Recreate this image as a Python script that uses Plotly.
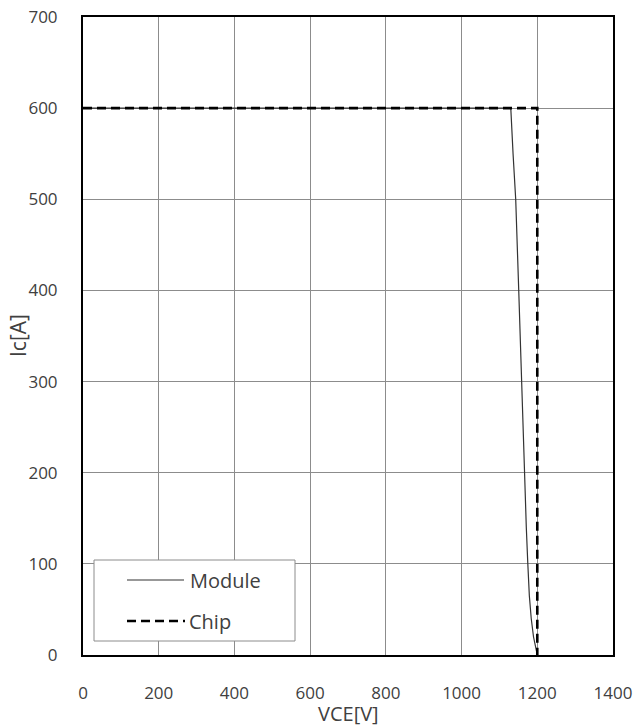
import plotly.graph_objects as go

# Collector current vs collector-emitter voltage (RBSOA)
module_vce = [0, 1130, 1136, 1143, 1151, 1158, 1165, 1171, 1175, 1179, 1184, 1190, 1200]
module_ic = [600, 600, 550, 500, 400, 300, 200, 140, 100, 65, 40, 20, 0]

chip_vce = [0, 1200, 1200]
chip_ic = [600, 600, 0]

x_ticks = [0, 200, 400, 600, 800, 1000, 1200, 1400]
y_ticks = [0, 100, 200, 300, 400, 500, 600, 700]

legend_names = ["Module", "Chip"]

font_family = "Open Sans, Lato, sans-serif"
text_grey = "#404040"

fig = go.Figure()
fig.add_trace(go.Scatter(x=module_vce, y=module_ic, mode="lines", name=legend_names[0],
                         line=dict(color="#333333", width=1.2), showlegend=False))
fig.add_trace(go.Scatter(x=chip_vce, y=chip_ic, mode="lines", name=legend_names[1],
                         line=dict(color="black", width=2.6, dash="9px,5px"), showlegend=False))

axis_common = dict(showline=True, mirror=True, linecolor="black", linewidth=2,
                   showgrid=True, gridcolor="#8c8c8c", gridwidth=1, zeroline=False,
                   automargin=False, ticks="",
                   tickfont=dict(family=font_family, size=17, color=text_grey))

fig.update_xaxes(range=[0, 1400], tickvals=x_ticks, ticklabelstandoff=22, **axis_common)
fig.update_yaxes(range=[0, 700], tickvals=y_ticks, ticklabelstandoff=20, **axis_common)

# Layout in pixels, converted to paper coordinates for the legend and titles
W, H = 641, 727
ml, mr, mt, mb = 83, 28, 17, 72
pw, ph = W - ml - mr, H - mt - mb


def px(x):
    return (x - ml) / pw


def py(y):
    return 1 - (y - mt) / ph


shapes = [
    dict(type="rect", xref="paper", yref="paper", x0=px(94), x1=px(295), y0=py(641), y1=py(560),
         line=dict(color="#8c8c8c", width=1), fillcolor="white", layer="above"),
    dict(type="line", xref="paper", yref="paper", x0=px(127), x1=px(184), y0=py(580), y1=py(580),
         line=dict(color="#333333", width=1.2), layer="above"),
    dict(type="line", xref="paper", yref="paper", x0=px(127), x1=px(185), y0=py(621), y1=py(621),
         line=dict(color="black", width=2.6, dash="9px,5px"), layer="above"),
]
annotations = [
    dict(xref="paper", yref="paper", x=px(188), y=py(580), text=legend_names[0], showarrow=False,
         xanchor="left", yanchor="middle", font=dict(family=font_family, size=20, color=text_grey)),
    dict(xref="paper", yref="paper", x=px(187), y=py(621), text=legend_names[1], showarrow=False,
         xanchor="left", yanchor="middle", font=dict(family=font_family, size=20, color=text_grey)),
    # axis titles
    dict(xref="paper", yref="paper", x=px(348), y=py(713), text="VCE[V]", showarrow=False,
         xanchor="center", yanchor="middle", font=dict(family=font_family, size=20, color=text_grey)),
    dict(xref="paper", yref="paper", x=px(18), y=py(336), text="Ic[A]", showarrow=False, textangle=-90,
         xanchor="center", yanchor="middle", font=dict(family=font_family, size=21, color=text_grey)),
]

fig.update_layout(width=W, height=H, margin=dict(l=ml, r=mr, t=mt, b=mb),
                  plot_bgcolor="white", paper_bgcolor="white",
                  shapes=shapes, annotations=annotations, showlegend=False)

fig.write_html("out.html")
